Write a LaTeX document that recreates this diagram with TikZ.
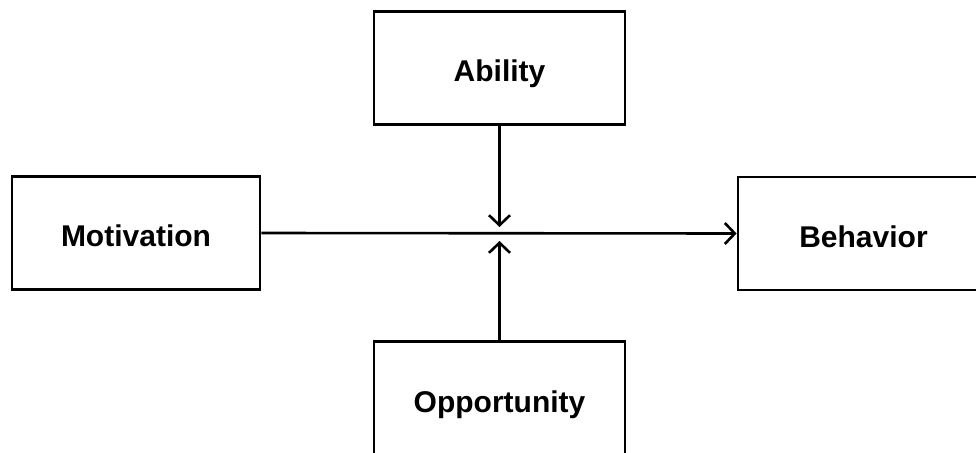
\documentclass[tikz,border=0pt]{standalone}
\usepackage{fontspec}
\setmainfont{Liberation Sans}
\usetikzlibrary{arrows.meta}

\begin{document}
\begin{tikzpicture}[x=1pt,y=-1pt,
    box/.style={draw=black,line width=2.8pt,minimum width=251pt,minimum height=113pt,
        inner sep=0pt,text height=27pt,text depth=0pt,font=\fontsize{30}{36}\selectfont\bfseries},
    link/.style={black,line width=2.6pt,-{Straight Barb[length=10pt,width=21pt,line width=2.6pt]}}]
            \useasboundingbox (0,0) rectangle (976,452);
            \clip (0,0) rectangle (976,452);
            \node [box] (ability) at (499.5,68) {Ability};
            \node [box,minimum width=248pt] (motivation) at (136,233) {Motivation};
            \node [box] (behavior) at (863.5,233.5) {Behavior};
            \node [box,minimum height=115pt] (opportunity) at (499.5,399) {Opportunity};
            \coordinate (abilityend) at (499.5,227);
            \coordinate (opportunityend) at (499.5,241);
            \draw [link] (motivation.east) -- (behavior.west);
            \draw [link] (ability.south) -- (abilityend);
            \draw [link] (opportunity.north) -- (opportunityend);
        \end{tikzpicture}
\end{document}
